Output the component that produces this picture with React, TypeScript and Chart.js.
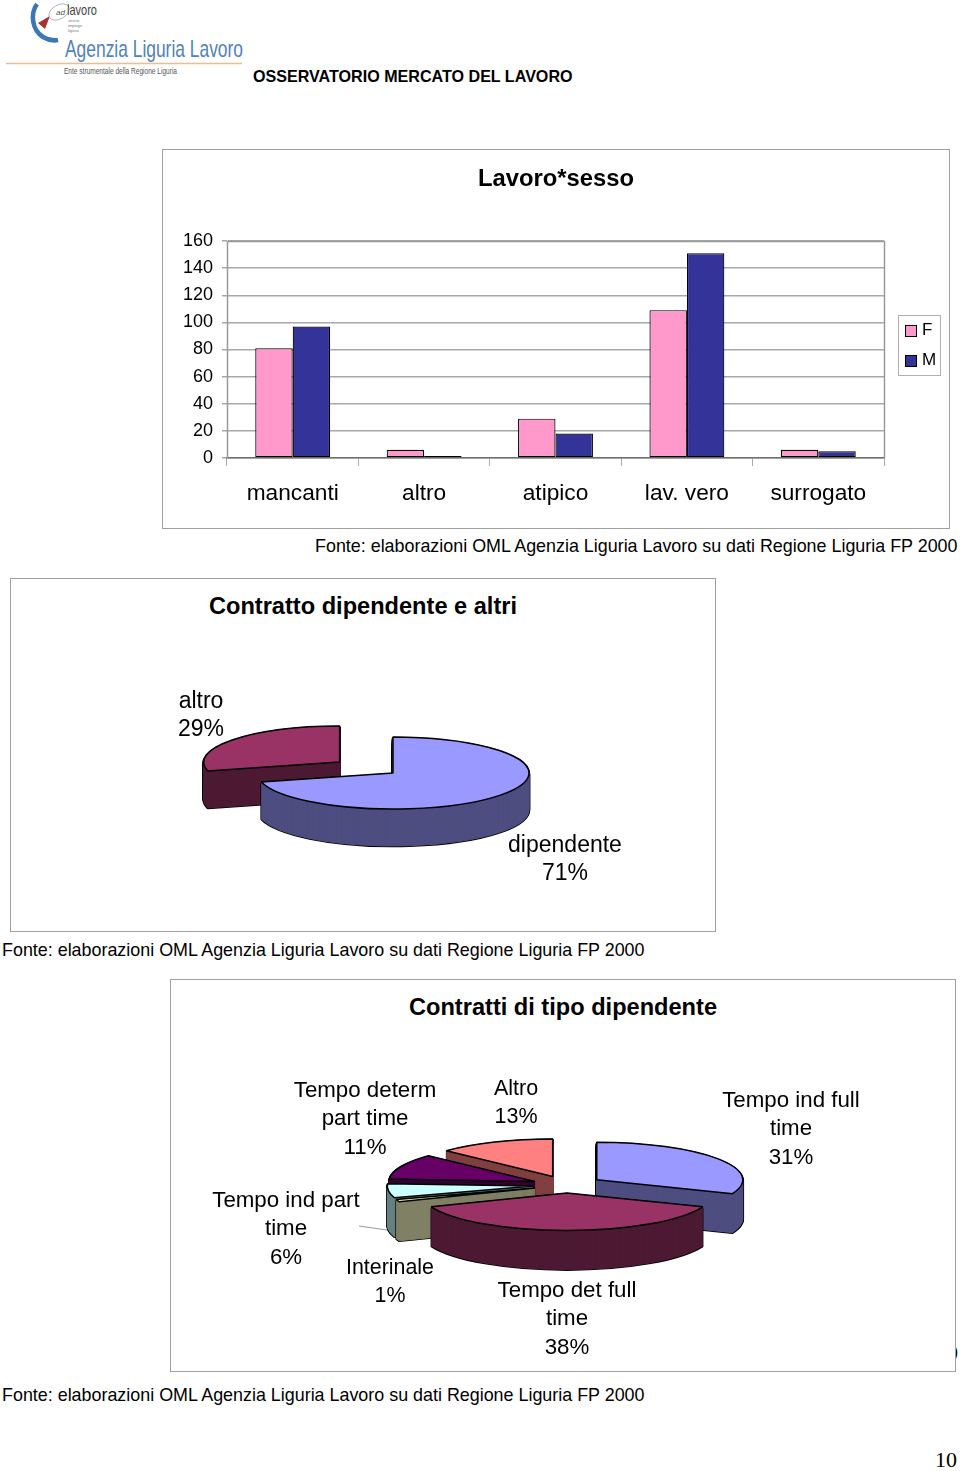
import React, { useEffect, useRef } from "react";
import { Chart, registerables } from "chart.js";

Chart.register(...registerables);

const categories = ["mancanti", "altro", "atipico", "lav. vero", "surrogato"];
const femaleValues = [81, 6, 29, 109, 6];
const maleValues = [97, 1.5, 18, 151, 5];
const seriesNames = ["F", "M"];
const seriesColors = ["#FF99CC", "#333399"];

const contrattoLabels = ["dipendente", "altro"];
const contrattoValues = [71, 29];
const contrattoColors = ["#9999FF", "#993366"];
const contrattoSides = ["#4D4D80", "#4D1A33"];
const contrattoExplode = [0, 67.5];

const tipoLabels = ["Tempo ind full time", "Tempo det full time", "Interinale", "Tempo ind part time", "Tempo determ part time", "Altro"];
const tipoValues = [31, 38, 1, 6, 11, 13];
const tipoColors = ["#9999FF", "#993366", "#FFFFCC", "#CCFFFF", "#660066", "#FF8080"];
const tipoSides = ["#4D4D80", "#4D1A33", "#808066", "#668080", "#330033", "#804040"];
const tipoExplode = [36, 31, 34, 34, 35, 36];

const SOURCE = "Fonte: elaborazioni OML Agenzia Liguria Lavoro su dati Regione Liguria FP 2000";
const FONT = "'Liberation Sans', Arial, sans-serif";

const pie3d = {
  id: "pie3d",
  beforeDatasetDraw(chart: any, _args: any, opts: any) {
    const ctx = chart.ctx;
    const arcs: any[] = chart.getDatasetMeta(0).data;
    const mid = (a: any) => (a.startAngle + a.endAngle) / 2;
    const order = arcs.map((_, i) => i).sort((p, q) => Math.sin(mid(arcs[p])) - Math.sin(mid(arcs[q])));
    const base = { borderAlign: "center", borderRadius: 0, offset: 0, spacing: 0, borderDash: [], borderDashOffset: 0, circular: true };
    const nativeStroke = ctx.stroke;
    // stroke with an undistorted pen after the path has been flattened
    ctx.stroke = function () {
      ctx.save();
      ctx.setTransform(1, 0, 0, 1, 0, 0);
      nativeStroke.call(ctx);
      ctx.restore();
    };
    const paint = (arc: any, i: number, depth: number, style: any) => {
      const saved = arc.options;
      arc.options = { ...base, ...style };
      const e = opts.explode[i];
      ctx.save();
      ctx.translate(arc.x, arc.y + depth);
      ctx.scale(1, opts.tilt);
      ctx.translate(-arc.x + Math.cos(mid(arc)) * e, -arc.y + Math.sin(mid(arc)) * e);
      arc.draw(ctx);
      ctx.restore();
      arc.options = saved;
    };
    for (const i of order) {
      const arc = arcs[i];
      const side = opts.sides[i];
      for (let d = opts.depth; d >= 1; d--) paint(arc, i, d, { backgroundColor: "#000", borderColor: "#000", borderWidth: 2.6 });
      for (let d = opts.depth; d >= 1; d--) paint(arc, i, d, { backgroundColor: side, borderColor: side, borderWidth: 1 });
      paint(arc, i, 0, { backgroundColor: opts.colors[i], borderColor: "#000", borderWidth: 1.5 });
    }
    delete ctx.stroke;
    return false;
  },
};

const plotFrame = {
  id: "plotFrame",
  beforeDatasetsDraw(chart: any) {
    const { ctx, chartArea: a } = chart;
    ctx.save();
    ctx.strokeStyle = "#9a9a9a";
    ctx.lineWidth = 1.5;
    ctx.beginPath();
    ctx.moveTo(a.left + 0.5, a.bottom);
    ctx.lineTo(a.left + 0.5, a.top + 0.5);
    ctx.lineTo(a.right + 0.5, a.top + 0.5);
    ctx.lineTo(a.right + 0.5, a.bottom);
    ctx.stroke();
    ctx.restore();
  },
};

function BarChart() {
  const ref = useRef<HTMLCanvasElement>(null);
  useEffect(() => {
    const chart = new Chart(ref.current!, {
      type: "bar",
      data: {
        labels: categories,
        datasets: [
          { label: seriesNames[0], data: femaleValues, backgroundColor: seriesColors[0], borderColor: "#000", borderWidth: 1.2, borderSkipped: false },
          { label: seriesNames[1], data: maleValues, backgroundColor: seriesColors[1], borderColor: "#000", borderWidth: 1.2, borderSkipped: false },
        ],
      },
      options: {
        responsive: false,
        animation: false,
        layout: { padding: { left: 0, right: 66, top: 92, bottom: 0 } },
        plugins: { legend: { display: false }, title: { display: false }, tooltip: { enabled: false } },
        datasets: { bar: { categoryPercentage: 0.57, barPercentage: 1 } },
        scales: {
          x: {
            afterFit: (s: any) => { s.height = 71; },
            grid: { drawOnChartArea: false, drawTicks: true, tickLength: 8, tickColor: "#aaaaaa", offset: true },
            border: { color: "#707070", width: 1.5 },
            ticks: { color: "#000", padding: 14, maxRotation: 0, autoSkip: false, font: { family: FONT, size: 22.7 } },
          },
          y: {
            min: 0,
            max: 160,
            afterFit: (s: any) => { s.width = 65; },
            grid: { color: "#a8a8a8", tickColor: "#a8a8a8", tickLength: 5, lineWidth: 1.5 },
            border: { color: "#9a9a9a", width: 1 },
            ticks: { stepSize: 20, color: "#000", padding: 9, font: { family: FONT, size: 18 } },
          },
        },
      },
      plugins: [plotFrame],
    } as any);
    return () => chart.destroy();
  }, []);
  return <canvas ref={ref} width={788} height={380} style={{ position: "absolute", left: 162, top: 149, width: 788, height: 380 }} />;
}

function Pie3D(props: { labels: string[]; values: number[]; colors: string[]; sides: string[]; explode: number[]; cx: number; cy: number; radius: number; tilt: number; depth: number; w: number; h: number }) {
  const ref = useRef<HTMLCanvasElement>(null);
  useEffect(() => {
    const chart = new Chart(ref.current!, {
      type: "pie",
      data: { labels: props.labels, datasets: [{ data: props.values, backgroundColor: props.colors, borderColor: "#000", borderWidth: 1 }] },
      options: {
        responsive: false,
        animation: false,
        radius: props.radius,
        plugins: {
          legend: { display: false },
          tooltip: { enabled: false },
          pie3d: { explode: props.explode, sides: props.sides, colors: props.colors, tilt: props.tilt, depth: props.depth },
        },
      },
      plugins: [pie3d],
    } as any);
    return () => chart.destroy();
  }, []);
  return <canvas ref={ref} width={props.w} height={props.h} style={{ position: "absolute", left: props.cx - props.w / 2, top: props.cy - props.h / 2, width: props.w, height: props.h }} />;
}

const abs = (left: number, top: number, extra: any = {}) => ({ position: "absolute", left, top, fontFamily: FONT, color: "#000", whiteSpace: "nowrap", ...extra });

function Centered({ x, y, size, bold, children }: any) {
  return (
    <div style={abs(x - 300, y - size * 0.6, { width: 600, textAlign: "center", fontSize: size, lineHeight: `${size * 1.2}px`, fontWeight: bold ? "bold" : "normal" })}>{children}</div>
  );
}

function PieLabel({ x, y, lines, size = 22.3 }: { x: number; y: number; lines: string[]; size?: number }) {
  return (
    <div style={abs(x - 150, y - 14.25, { width: 300, textAlign: "center", fontSize: size, lineHeight: "28.5px" })}>
      {lines.map((l, i) => <div key={i}>{l}</div>)}
    </div>
  );
}

const panel = (l: number, t: number, r: number, b: number) => (
  <div style={{ position: "absolute", left: l, top: t, width: r - l, height: b - t, border: "1px solid #a0a0a0", boxSizing: "border-box", background: "#fff" }} />
);

function Logo() {
  return (
    <svg width={260} height={85} style={{ position: "absolute", left: 0, top: 0 }}>
      <path d="M37 4 C30 14 32 30 43 37 C48 40 53 41 58 40" fill="none" stroke="#3a78b5" strokeWidth={4.5} />
      <path d="M50 16 L38 23 L45 29 Z" fill="#a83232" />
      <ellipse cx={59} cy={12} rx={11} ry={7} fill="none" stroke="#a0acb8" strokeWidth={0.8} transform="rotate(-30 59 12)" />
      <text x={56} y={15} fontFamily={FONT} fontSize={8} fontStyle="italic" fill="#555">ad</text>
      <text x={67} y={15} fontFamily={FONT} fontSize={15} fill="#444" textLength={30} lengthAdjust="spacingAndGlyphs">lavoro</text>
      <text x={68} y={22} fontFamily={FONT} fontSize={4} fill="#777">servizi</text>
      <text x={68} y={27} fontFamily={FONT} fontSize={4} fill="#777">impiego</text>
      <text x={68} y={32} fontFamily={FONT} fontSize={4} fill="#777">liguria</text>
      <text x={65} y={57} fontFamily={FONT} fontSize={24} fill="#5083b8" textLength={178} lengthAdjust="spacingAndGlyphs">Agenzia Liguria Lavoro</text>
      <line x1={6} y1={63.5} x2={242} y2={63.5} stroke="#eebd88" strokeWidth={1.5} />
      <text x={64} y={74} fontFamily={FONT} fontSize={9.5} fill="#555" textLength={113} lengthAdjust="spacingAndGlyphs">Ente strumentale della Regione Liguria</text>
    </svg>
  );
}

export default function App() {
  return (
    <div style={{ position: "fixed", left: 0, top: 0, width: 960, height: 1471, overflow: "hidden", background: "#fff" }}>
      <Logo />
      <div style={abs(253, 66, { fontSize: 16.1, lineHeight: "20px", fontWeight: "bold" })}>OSSERVATORIO MERCATO DEL LAVORO</div>

      {panel(162, 149, 950, 529)}
      <BarChart />
      <Centered x={556} y={178} size={23.8} bold>Lavoro*sesso</Centered>
      <div style={{ position: "absolute", left: 898, top: 315, width: 43, height: 61, border: "1px solid #b0b0b0", boxSizing: "border-box" }} />
      {seriesNames.map((n, i) => (
        <React.Fragment key={n}>
          <div style={{ position: "absolute", left: 905, top: 325 + i * 30, width: 12, height: 12, background: seriesColors[i], border: "1px solid #000", boxSizing: "border-box" }} />
          <div style={abs(922, 320 + i * 30, { fontSize: 17, lineHeight: "20px" })}>{n}</div>
        </React.Fragment>
      ))}
      <div style={abs(315, 536, { fontSize: 17.9, lineHeight: "20px" })}>{SOURCE}</div>

      {panel(10, 578, 716, 932)}
      <Centered x={363} y={606} size={23.6} bold>Contratto dipendente e altri</Centered>
      <Pie3D labels={contrattoLabels} values={contrattoValues} colors={contrattoColors} sides={contrattoSides} explode={contrattoExplode} cx={393} cy={773} radius={136} tilt={0.265} depth={37} w={520} h={200} />
      <PieLabel x={201} y={700} size={23} lines={[contrattoLabels[1], `${contrattoValues[1]}%`]} />
      <PieLabel x={565} y={844} size={23} lines={[contrattoLabels[0], `${contrattoValues[0]}%`]} />
      <div style={abs(2, 940, { fontSize: 17.9, lineHeight: "20px" })}>{SOURCE}</div>

      <div style={{ position: "absolute", left: 947, top: 1340, fontFamily: "'Liberation Serif', serif", fontSize: 22, lineHeight: "26px", color: "#000" }}>0</div>
      {panel(170, 979, 956, 1372)}
      <Centered x={563} y={1007} size={23.6} bold>Contratti di tipo dipendente</Centered>
      <Pie3D labels={tipoLabels} values={tipoValues} colors={tipoColors} sides={tipoSides} explode={tipoExplode} cx={567} cy={1185} radius={146} tilt={0.2575} depth={39} w={460} h={220} />
      <PieLabel x={365} y={1090} lines={["Tempo determ", "part time", `${tipoValues[4]}%`]} />
      <PieLabel x={516} y={1088} size={21.5} lines={[tipoLabels[5], `${tipoValues[5]}%`]} />
      <PieLabel x={791} y={1100} lines={["Tempo ind full", "time", `${tipoValues[0]}%`]} />
      <PieLabel x={286} y={1200} lines={["Tempo ind part", "time", `${tipoValues[3]}%`]} />
      <PieLabel x={390} y={1267} size={21.4} lines={[tipoLabels[2], `${tipoValues[2]}%`]} />
      <PieLabel x={567} y={1290} lines={["Tempo det full", "time", `${tipoValues[1]}%`]} />
      <svg width={40} height={12} style={{ position: "absolute", left: 355, top: 1222 }}>
        <line x1={4} y1={4} x2={32} y2={8} stroke="#999" strokeWidth={1} />
      </svg>
      <div style={abs(2, 1385, { fontSize: 17.9, lineHeight: "20px" })}>{SOURCE}</div>

      <div style={{ position: "absolute", right: 3, top: 1447, fontFamily: "'Liberation Serif', serif", fontSize: 22, lineHeight: "26px", color: "#000" }}>10</div>
    </div>
  );
}
